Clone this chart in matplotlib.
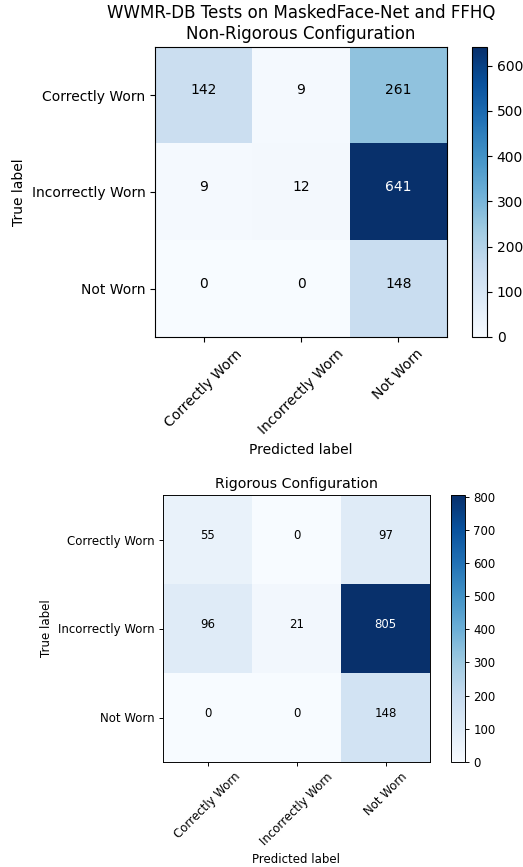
import matplotlib
matplotlib.use("Agg")
import matplotlib.pyplot as plt
import numpy as np

classes = ["Correctly Worn", "Incorrectly Worn", "Not Worn"]
cm_nonrig = np.array([[142, 9, 261],
                      [9, 12, 641],
                      [0, 0, 148]])
cm_rig = np.array([[55, 0, 97],
                   [96, 21, 805],
                   [0, 0, 148]])
title_top = "WWMR-DB Tests on MaskedFace-Net and FFHQ\nNon-Rigorous Configuration"
title_bot = "Rigorous Configuration"

W, H = 523, 867
fig = plt.figure(figsize=(W / 100, H / 100), dpi=100)


def px(l, t, r, b):
    return [l / W, 1 - b / H, (r - l) / W, (b - t) / H]


def draw(ax_rect, cb_rect, cm, title, fs, scale):
    ax = fig.add_axes(px(*ax_rect))
    cax = fig.add_axes(px(*cb_rect))
    im = ax.imshow(cm, interpolation="nearest", cmap=plt.cm.Blues, aspect="auto")
    cb = fig.colorbar(im, cax=cax)
    cb.ax.tick_params(labelsize=fs, width=0.8 * scale, length=3.5 * scale, pad=3.5 * scale)
    cb.outline.set_linewidth(0.8 * scale)
    ax.set_title(title, fontsize=fs * 1.2, pad=6 * scale)
    ticks = np.arange(len(classes))
    ax.set_xticks(ticks)
    ax.set_yticks(ticks)
    ax.set_xticklabels(classes, rotation=45, fontsize=fs)
    ax.set_yticklabels(classes, fontsize=fs)
    ax.tick_params(width=0.8 * scale, length=3.5 * scale, pad=3.5 * scale)
    for s in ax.spines.values():
        s.set_linewidth(0.8 * scale)
    thresh = cm.max() / 2.0
    for i in range(cm.shape[0]):
        for j in range(cm.shape[1]):
            ax.text(j, i - 0.05, format(cm[i, j], "d"), ha="center", va="center",
                    fontsize=fs, color="white" if cm[i, j] > thresh else "black")
    ax.set_ylabel("True label", fontsize=fs, labelpad=4 * scale)
    ax.set_xlabel("Predicted label", fontsize=fs, labelpad=4 * scale)
    return ax


draw((155, 47, 447, 337), (472, 47, 487, 337), cm_nonrig, title_top, 10, 1.0)
draw((163, 495, 430, 762), (451, 495, 465, 762), cm_rig, title_bot, 8.5, 0.85)

fig.savefig("out.png", dpi=100)
